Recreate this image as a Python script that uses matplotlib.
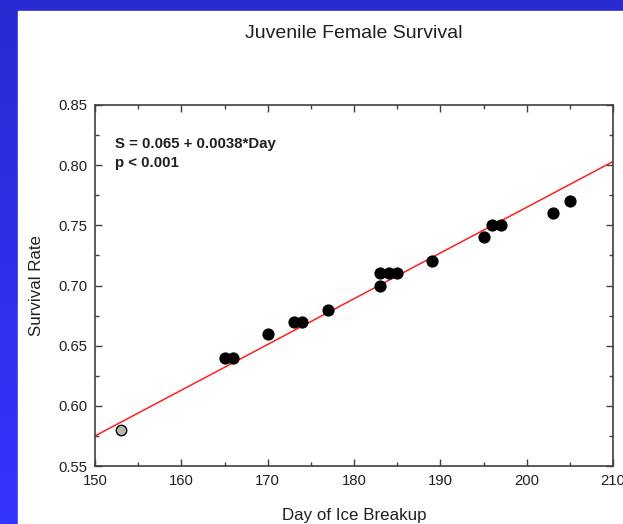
import numpy as np
import matplotlib.pyplot as plt
from matplotlib.patches import Rectangle
from matplotlib.ticker import MultipleLocator

plt.rcParams['font.family'] = ['Liberation Sans', 'DejaVu Sans']

# dia de ruptura del hielo y supervivencia juvenil
dias = [165, 166, 170, 173, 174, 177, 183, 183, 184, 185, 189, 195, 196, 197, 203, 205]
superv = [0.64, 0.64, 0.66, 0.67, 0.67, 0.68, 0.70, 0.71, 0.71, 0.71, 0.72, 0.74, 0.75, 0.75, 0.76, 0.77]
# punto aparte (gris)
dia_gris = [153]
superv_gris = [0.58]

# recta de regresion
pendiente = 0.0038
ordenada = 0.005
rango_x = [150, 210]

fig = plt.figure(figsize=(6.23, 5.24), dpi=100)

# fondo azul con degradado y panel blanco
fondo = fig.add_axes([0, 0, 1, 1])
grad = np.linspace(0, 1, 256).reshape(-1, 1)
colores = np.array([42, 42, 210]) / 255 * (1 - grad)[..., None] + np.array([52, 52, 255]) / 255 * grad[..., None]
fondo.imshow(colores, aspect='auto', extent=[0, 1, 0, 1], origin='upper')
fondo.add_patch(Rectangle((18 / 623, 0), 1, 1 - 11 / 524, color='white', zorder=2))
fondo.set_xlim(0, 1)
fondo.set_ylim(0, 1)
fondo.axis('off')

ax = fig.add_axes([95 / 623, 1 - 466 / 524, 518 / 623, 361 / 524])

xs = np.array(rango_x)
ax.plot(xs, ordenada + pendiente * xs, color='#ff2020', lw=1.1, zorder=2)
ax.plot(dias, superv, 'o', color='black', markersize=7.8, zorder=3)
ax.plot(dia_gris, superv_gris, 'o', markerfacecolor='#b8b8aa', markeredgecolor='black',
        markeredgewidth=1.0, markersize=7.5, zorder=3)

ax.set_xlim(150, 210)
ax.set_ylim(0.55, 0.85)
ax.xaxis.set_major_locator(MultipleLocator(10))
ax.xaxis.set_minor_locator(MultipleLocator(5))
ax.yaxis.set_major_locator(MultipleLocator(0.05))
ax.yaxis.set_minor_locator(MultipleLocator(0.025))
ax.yaxis.set_major_formatter(plt.FuncFormatter(lambda v, p: "%.2f" % v))

for s in ax.spines.values():
    s.set_color('#404040')
    s.set_linewidth(1.2)
ax.tick_params(which='both', direction='in', top=True, right=True, colors='#404040',
               labelcolor='#202020', labelsize=10.7)
ax.tick_params(which='major', length=5, width=1, pad=5.5)
ax.tick_params(which='minor', length=3, width=1)

ax.set_xlabel('Day of Ice Breakup', fontsize=12.2, color='#202020', labelpad=14.5)
ax.set_ylabel('Survival Rate', fontsize=12.2, color='#202020', labelpad=10)

ax.text(0.0386, 0.912, 'S = 0.065 + 0.0038*Day\np < 0.001', transform=ax.transAxes,
        fontsize=10.8, fontweight='bold', va='top', ha='left', color='#202020', linespacing=1.5)

fig.text(354 / 623, 1 - 33 / 524, 'Juvenile Female Survival', fontsize=14,
         ha='center', va='center', color='#202020')

fig.savefig('out.png', dpi=100)
